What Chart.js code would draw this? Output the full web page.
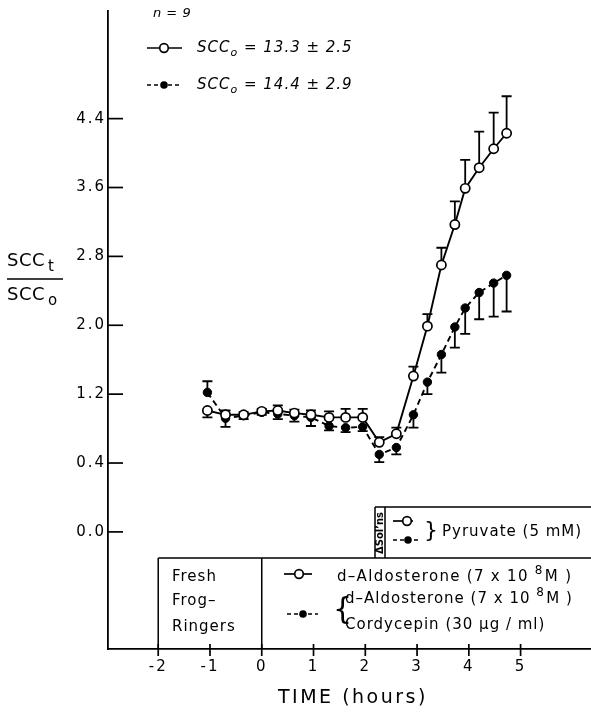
<!DOCTYPE html>
<html>
<head>
<meta charset="utf-8">
<script src="https://cdn.jsdelivr.net/npm/chart.js@4.4.0/dist/chart.umd.min.js"></script>
<style>
  html, body { margin: 0; padding: 0; background: #fff; }
  #caixa { width: 591px; height: 715px; }
</style>
</head>
<body>
<div id="caixa"><canvas id="grafico"></canvas></div>
<script>
  // tempo (horas) de cada medida
  var tempos = [-1.05, -0.7, -0.35, 0, 0.31, 0.63, 0.95, 1.3, 1.62, 1.95,
                2.27, 2.6, 2.93, 3.2, 3.47, 3.73, 3.93, 4.2, 4.48, 4.73];

  // d-Aldosterone (circulo aberto)
  var aldoValores = [1.01, 0.96, 0.96, 1.0, 1.01, 0.98, 0.96, 0.93, 0.93, 0.93,
                     0.64, 0.74, 1.41, 1.99, 2.70, 3.17, 3.59, 3.83, 4.05, 4.23];
  // erro padrao (positivo = para cima, negativo = para baixo)
  var aldoErro = [-0.08, 0.05, 0.03, 0.03, 0.06, 0.04, 0.05, 0.07, 0.10, 0.10,
                  0.06, 0.07, 0.11, 0.14, 0.20, 0.27, 0.33, 0.42, 0.42, 0.43];

  // d-Aldosterone + Cordycepin (circulo cheio)
  var cordyValores = [1.22, 0.92, 0.95, 0.99, 0.97, 0.95, 0.93, 0.83, 0.81, 0.82,
                      0.50, 0.58, 0.96, 1.34, 1.66, 1.98, 2.20, 2.38, 2.49, 2.58];
  var cordyErro = [0.13, -0.10, -0.04, -0.03, -0.06, -0.07, -0.10, -0.05, -0.05, -0.05,
                   -0.09, -0.08, -0.15, -0.14, -0.21, -0.24, -0.30, -0.31, -0.39, -0.42];

  var xTicks = [-2, -1, 0, 1, 2, 3, 4, 5];
  var xTickLabels = ['-2', '-1', '0', '1', '2', '3', '4', '5'];
  var yTicks = [-0.4, 0.4, 1.2, 2.0, 2.8, 3.6, 4.4];
  var yTickLabels = ['0.0', '0.4', '1.2', '2.0', '2.8', '3.6', '4.4'];

  var fonte = "'DejaVu Sans', sans-serif";

  function pontos(valores){
    var r = [];
    for (var i = 0; i < tempos.length; i++) r.push({x: tempos[i], y: valores[i]});
    return r;
  }

  function desenhaErros(chart, idx, erros){
    var ctx = chart.ctx;
    var ys = chart.scales.y;
    var meta = chart.getDatasetMeta(idx);
    var dados = chart.data.datasets[idx].data;
    ctx.save();
    ctx.strokeStyle = '#000';
    ctx.lineWidth = 1.8;
    meta.data.forEach(function(pt, i){
      var yFim = ys.getPixelForValue(dados[i].y + erros[i]);
      ctx.beginPath();
      ctx.moveTo(pt.x, pt.y);
      ctx.lineTo(pt.x, yFim);
      ctx.moveTo(pt.x - 5, yFim);
      ctx.lineTo(pt.x + 5, yFim);
      ctx.stroke();
    });
    ctx.restore();
  }

  function marcador(ctx, x1, x2, y, xc, cheio){
    ctx.save();
    ctx.strokeStyle = '#000';
    ctx.lineWidth = 1.7;
    if (cheio) ctx.setLineDash([4, 3]);
    ctx.beginPath();
    ctx.moveTo(x1, y);
    ctx.lineTo(x2, y);
    ctx.stroke();
    ctx.setLineDash([]);
    ctx.beginPath();
    ctx.arc(xc, y, cheio ? 3.8 : 4.3, 0, Math.PI * 2);
    ctx.fillStyle = cheio ? '#000' : '#fff';
    ctx.fill();
    if (!cheio) ctx.stroke();
    ctx.restore();
  }

  // escreve "SCC" com subscrito
  function textoSCC(ctx, x, y, sub, tam, estilo, escala, folga){
    ctx.font = estilo + tam + 'px ' + fonte;
    ctx.fillText('SCC', x, y);
    var w = ctx.measureText('SCC').width;
    ctx.font = estilo + Math.round(tam * escala) + 'px ' + fonte;
    ctx.fillText(sub, x + w + folga, y + tam * 0.32);
    return x + w + folga + ctx.measureText(sub).width;
  }

  var ajustes = {
    id: 'ajustes',
    beforeDraw: function(chart){
      chart.ctx.letterSpacing = '2px';
    },
    beforeDatasetsDraw: function(chart){
      chart.ctx.letterSpacing = '0px';
      desenhaErros(chart, 0, aldoErro);
      desenhaErros(chart, 1, cordyErro);
    },
    afterDraw: function(chart){
      var ctx = chart.ctx;
      var xs = chart.scales.x, ys = chart.scales.y;
      var area = chart.chartArea;
      ctx.save();
      ctx.letterSpacing = '0px';
      ctx.strokeStyle = '#000';
      ctx.fillStyle = '#000';
      ctx.lineWidth = 1.7;

      // marcas do eixo y (para dentro)
      yTicks.forEach(function(v){
        var p = ys.getPixelForValue(v);
        ctx.beginPath();
        ctx.moveTo(area.left, p);
        ctx.lineTo(area.left + 15, p);
        ctx.stroke();
      });
      // marcas do eixo x
      xTicks.forEach(function(v){
        var p = xs.getPixelForValue(v);
        ctx.beginPath();
        ctx.moveTo(p, area.bottom - 5);
        ctx.lineTo(p, area.bottom + 7);
        ctx.stroke();
      });

      // titulo do eixo x
      ctx.textBaseline = 'middle';
      ctx.textAlign = 'left';
      ctx.letterSpacing = '2.5px';
      ctx.font = '19px ' + fonte;
      ctx.fillText('TIME (hours)', 278, 698);

      // titulo do eixo y (fracao)
      ctx.letterSpacing = '0.5px';
      textoSCC(ctx, 7, 261, 't', 18, '', 0.85, 3);
      ctx.beginPath();
      ctx.moveTo(7, 279);
      ctx.lineTo(63, 279);
      ctx.stroke();
      textoSCC(ctx, 7, 295, 'o', 18, '', 0.85, 3);

      // legenda do topo
      ctx.letterSpacing = '0.5px';
      ctx.font = 'italic 13px ' + fonte;
      ctx.fillText('n = 9', 153, 14);
      ctx.letterSpacing = '1px';
      marcador(ctx, 147, 182, 48, 164, false);
      var x = textoSCC(ctx, 197, 48, 'o', 15, 'italic ', 0.75, 0);
      ctx.font = 'italic 15px ' + fonte;
      ctx.fillText(' = 13.3 \u00b1 2.5', x, 48);
      marcador(ctx, 147, 182, 85, 164, true);
      x = textoSCC(ctx, 197, 85, 'o', 15, 'italic ', 0.75, 0);
      ctx.font = 'italic 15px ' + fonte;
      ctx.fillText(' = 14.4 \u00b1 2.9', x, 85);

      // caixa Pyruvate
      var dir = 591;
      ctx.lineWidth = 1.5;
      ctx.beginPath();
      ctx.moveTo(375, 507); ctx.lineTo(dir, 507);
      ctx.moveTo(375, 507); ctx.lineTo(375, 558);
      ctx.moveTo(385, 507); ctx.lineTo(385, 558);
      ctx.stroke();
      ctx.save();
      ctx.letterSpacing = '0px';
      ctx.translate(380, 533);
      ctx.rotate(-Math.PI / 2);
      ctx.textAlign = 'center';
      ctx.font = 'bold 10px ' + fonte;
      ctx.fillText('\u0394Sol\u2019ns', 0, 0);
      ctx.restore();
      marcador(ctx, 393, 413, 521, 407, false);
      marcador(ctx, 393, 420, 540, 408, true);
      ctx.letterSpacing = '0px';
      ctx.font = '22px ' + fonte;
      ctx.fillText('}', 424, 531);
      ctx.letterSpacing = '1px';
      ctx.font = '15px ' + fonte;
      ctx.fillText('Pyruvate (5 mM)', 442, 532);

      // caixa inferior
      var xm2 = xs.getPixelForValue(-2), x0 = xs.getPixelForValue(0);
      ctx.beginPath();
      ctx.moveTo(xm2, 558); ctx.lineTo(dir, 558);
      ctx.moveTo(xm2, 558); ctx.lineTo(xm2, area.bottom);
      ctx.moveTo(x0, 558); ctx.lineTo(x0, area.bottom);
      ctx.stroke();
      ctx.letterSpacing = '1px';
      ctx.font = '15px ' + fonte;
      ctx.fillText('Fresh', 172, 577);
      ctx.fillText('Frog\u2013', 172, 601);
      ctx.fillText('Ringers', 172, 627);

      ctx.letterSpacing = '1.3px';
      marcador(ctx, 284, 312, 574, 299, false);
      ctx.fillText('d\u2013Aldosterone (7 x 10', 337, 577);
      var w = ctx.measureText('d\u2013Aldosterone (7 x 10 ').width;
      ctx.font = '12px ' + fonte;
      ctx.fillText('8', 337 + w, 571);
      ctx.font = '15px ' + fonte;
      ctx.fillText('M )', 337 + w + 10, 577);

      marcador(ctx, 287, 318, 614, 303, true);
      ctx.letterSpacing = '0px';
      ctx.font = '30px ' + fonte;
      ctx.fillText('{', 333, 611);
      ctx.letterSpacing = '1px';
      ctx.font = '15px ' + fonte;
      ctx.fillText('d\u2013Aldosterone (7 x 10', 345, 599);
      w = ctx.measureText('d\u2013Aldosterone (7 x 10 ').width;
      ctx.font = '12px ' + fonte;
      ctx.fillText('8', 345 + w, 593);
      ctx.font = '15px ' + fonte;
      ctx.fillText('M )', 345 + w + 10, 599);
      ctx.fillText('Cordycepin (30 \u03bcg / ml)', 345, 625);

      ctx.restore();
    }
  };

  var mChart = new Chart(document.getElementById('grafico'), {
    type: 'scatter',
    data: {
      datasets: [{
          label: 'd-Aldosterone',
          data: pontos(aldoValores),
          showLine: true,
          borderColor: '#000',
          borderWidth: 1.9,
          pointRadius: 4.6,
          pointBorderWidth: 1.7,
          pointBackgroundColor: '#fff',
          pointBorderColor: '#000'
        }, {
          label: 'd-Aldosterone + Cordycepin',
          data: pontos(cordyValores),
          showLine: true,
          borderColor: '#000',
          borderWidth: 1.9,
          borderDash: [6, 4],
          pointRadius: 4.2,
          pointBorderWidth: 1,
          pointBackgroundColor: '#000',
          pointBorderColor: '#000'
        }
      ]
    },
    options: {
      responsive: true,
      maintainAspectRatio: false,
      animation: false,
      devicePixelRatio: 1,
      layout: { autoPadding: false, padding: { top: 10, right: 0, left: 0, bottom: 0 } },
      plugins: { legend: { display: false }, tooltip: { enabled: false } },
      scales: {
        x: {
          type: 'linear',
          min: -2.97,
          max: 6.36,
          afterFit: function(s){ s.height = 66; },
          afterBuildTicks: function(s){ s.ticks = xTicks.map(function(v){ return {value: v}; }); },
          grid: { display: false, drawTicks: false },
          border: { display: true, color: '#000', width: 1.8 },
          ticks: {
            autoSkip: false,
            maxRotation: 0,
            padding: 9,
            color: '#000',
            font: { family: fonte, size: 15 },
            callback: function(v, i){ return xTickLabels[i]; }
          }
        },
        y: {
          type: 'linear',
          min: -1.76,
          max: 5.65,
          afterFit: function(s){ s.width = 108; },
          afterBuildTicks: function(s){ s.ticks = yTicks.map(function(v){ return {value: v}; }); },
          grid: { display: false, drawTicks: false },
          border: { display: true, color: '#000', width: 1.8 },
          ticks: {
            autoSkip: false,
            padding: 2,
            color: '#000',
            font: { family: fonte, size: 15 },
            callback: function(v, i){ return yTickLabels[i]; }
          }
        }
      }
    },
    plugins: [ajustes]
  });
</script>
</body>
</html>
